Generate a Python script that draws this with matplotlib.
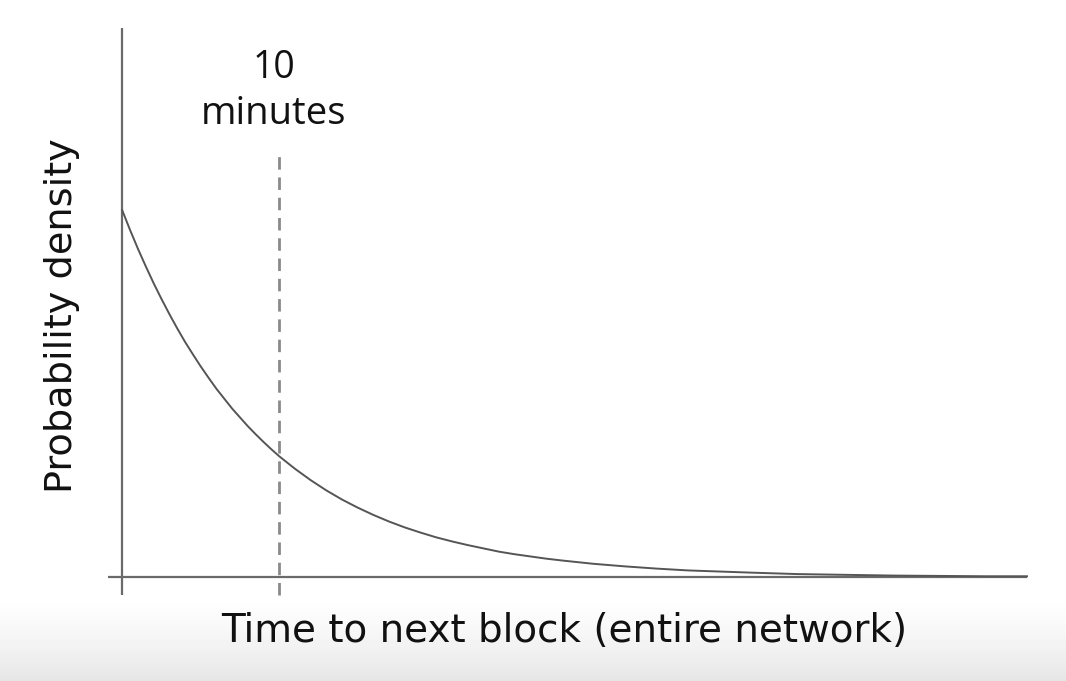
import numpy as np
import matplotlib
matplotlib.use("Agg")
import matplotlib.pyplot as plt

# Data (time in minutes, relative density)
time_min = [0, 0.5, 1, 1.5, 2, 2.5, 3, 3.5, 4, 4.5, 5, 5.5, 6, 6.5, 7, 7.5, 8, 8.5,
            9, 9.5, 10, 11, 12, 13, 14, 15, 16, 17, 18, 19, 20, 21, 22, 23, 24, 25,
            26, 27, 28, 30, 32, 34, 36, 38, 40, 43, 46, 49, 52, 55, 57.6]
density = [1.000, 0.946, 0.895, 0.847, 0.801, 0.758, 0.717, 0.678, 0.641, 0.607,
           0.574, 0.543, 0.513, 0.486, 0.459, 0.435, 0.411, 0.389, 0.368, 0.348,
           0.329, 0.295, 0.264, 0.236, 0.211, 0.189, 0.169, 0.151, 0.135, 0.121,
           0.108, 0.097, 0.087, 0.078, 0.069, 0.062, 0.056, 0.050, 0.045, 0.036,
           0.029, 0.023, 0.018, 0.015, 0.012, 0.008, 0.006, 0.004, 0.003, 0.002,
           0.002]
mean_time = 10
mean_label_top = "10"
mean_label_bottom = "minutes"
xlabel = "Time to next block (entire network)"
ylabel = "Probability density"

W, H = 1066, 681
fig = plt.figure(figsize=(W / 100, H / 100), dpi=100)
fig.patch.set_facecolor("white")

# bottom gray gradient band
bg = fig.add_axes([0, 0, 1, 1], zorder=-10)
grad = np.ones((H, 1))
rows = np.arange(H)
start = 595
t = np.clip((rows - start) / (H - start), 0, 1)
grad[:, 0] = 1.0 - 0.10 * t ** 1.3
bg.imshow(grad, cmap="gray", vmin=0, vmax=1, aspect="auto", extent=[0, 1, 0, 1], origin="upper")
bg.set_axis_off()

x0, x1 = -0.9, 57.6
y0, y1 = -0.049, 1.496
ax = fig.add_axes([108 / W, (H - 595) / H, 919 / W, 567 / H])
ax.set_xlim(x0, x1)
ax.set_ylim(y0, y1)
ax.set_axis_off()
ax.patch.set_alpha(0)

axis_color = "#6a6a6a"
ax.plot([x0, x1], [0, 0], color=axis_color, lw=1.6, solid_capstyle="butt", clip_on=False)
ax.plot([0, 0], [y0, y1], color=axis_color, lw=1.6, solid_capstyle="butt", clip_on=False)

ax.plot([mean_time, mean_time], [y0, 1.15], color="#8a8a8a", lw=2.0,
        linestyle=(0, (4.5, 2.8)), clip_on=False)

ax.plot(time_min, density, color="#555555", lw=1.4, clip_on=False,
        solid_joinstyle="round")

fig.text(274 / W, (H - 68) / H, mean_label_top, ha="center", va="center", fontsize=27,
         family="Open Sans", color="#111111")
fig.text(274 / W, (H - 114) / H, mean_label_bottom, ha="center", va="center", fontsize=27.5,
         family="Open Sans", color="#111111")

fig.text(564 / W, (H - 631) / H, xlabel, ha="center", va="center", fontsize=28,
         family="DejaVu Sans", color="#111111")
fig.text(62 / W, (H - 316) / H, ylabel, ha="center", va="center", rotation=90,
         fontsize=27.5, family="DejaVu Sans", color="#111111")

fig.savefig("out.png", dpi=100)
